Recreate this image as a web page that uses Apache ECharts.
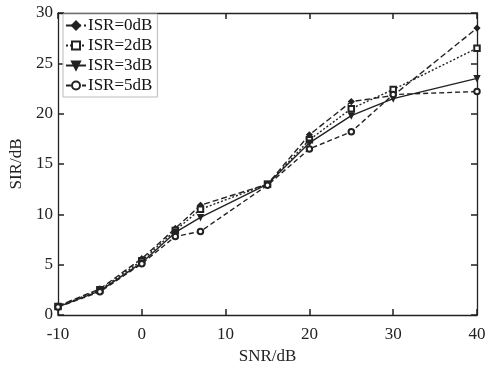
<!DOCTYPE html>
<html><head><meta charset="utf-8">
<script src="https://cdn.jsdelivr.net/npm/echarts@6/dist/echarts.min.js"></script>
<style>html,body{margin:0;padding:0;background:#fff}#c{width:500px;height:367px}</style>
</head><body><div id="c"></div>
<script>
const snr = [-10, -5, 0, 4, 7, 15, 20, 25, 30, 40];
const isr0 = [0.9, 2.6, 5.6, 8.6, 10.9, 13.0, 17.9, 21.2, 21.8, 28.5];
const isr2 = [0.85, 2.5, 5.4, 8.4, 10.5, 13.0, 17.4, 20.5, 22.4, 26.5];
const isr3 = [0.8, 2.4, 5.2, 8.2, 9.7, 13.0, 17.1, 19.8, 21.5, 23.5];
const isr5 = [0.8, 2.3, 5.1, 7.8, 8.3, 12.9, 16.5, 18.2, 21.9, 22.2];
const names = ['ISR=0dB', 'ISR=2dB', 'ISR=3dB', 'ISR=5dB'];
const xTicks = [-10, 0, 10, 20, 30, 40];
const yTicks = [0, 5, 10, 15, 20, 25, 30];

const font = 'Liberation Serif';
const pair = a => snr.map((x, i) => [x, a[i]]);
const axisCommon = () => ({
  axisLine: {show: true, onZero: false, lineStyle: {color: '#222', width: 1.3}},
  axisTick: {show: true, inside: true, length: 6, lineStyle: {color: '#222', width: 1.5}},
  splitLine: {show: false}
});
const mk = (name, data, type, symbol, rot) => ({
  name, type: 'line', data: pair(data), symbol, symbolSize: 5.5, symbolRotate: rot || 0,
  lineStyle: {color: '#222', width: 1.4, type},
  itemStyle: {color: '#222', borderColor: '#222', borderWidth: 1.2},
  emphasis: {disabled: true}, animation: false
});
const chart = echarts.init(document.getElementById('c'));
chart.setOption({
  animation: false,
  grid: {left: 58, right: 23, top: 13, bottom: 52, containLabel: false, outerBoundsMode: 'none'},
  legend: {
    orient: 'vertical', left: 63, top: 14, padding: [3, 5, 3, 2], itemGap: 3,
    itemWidth: 20, itemHeight: 10,
    backgroundColor: '#fff', borderColor: '#bbb', borderWidth: 1,
    textStyle: {fontFamily: font, fontSize: 17, color: '#111', padding: [0, 0, 0, -3]},
    data: names
  },
  xAxis: [
    Object.assign({type: 'value', min: -10, max: 40, interval: 10,
      name: 'SNR/dB', nameLocation: 'middle', nameGap: 33,
      nameTextStyle: {fontFamily: font, fontSize: 17, color: '#222'},
      axisLabel: {fontFamily: font, fontSize: 17, color: '#222', margin: 11,
        formatter: v => xTicks.includes(v) ? String(v) : ''}}, axisCommon()),
    Object.assign({type: 'value', min: -10, max: 40, interval: 10, position: 'top',
      axisLabel: {show: false}}, axisCommon())
  ],
  yAxis: [
    Object.assign({type: 'value', min: 0, max: 30, interval: 5,
      name: 'SIR/dB', nameLocation: 'middle', nameGap: 30,
      nameTextStyle: {fontFamily: font, fontSize: 17, color: '#222'},
      axisLabel: {fontFamily: font, fontSize: 17, color: '#222', margin: 5,
        formatter: v => yTicks.includes(v) ? String(v) : ''}}, axisCommon()),
    Object.assign({type: 'value', min: 0, max: 30, interval: 5, position: 'right',
      axisLabel: {show: false}}, axisCommon())
  ],
  series: [
    mk(names[0], isr0, [6, 3], 'diamond'),
    mk(names[1], isr2, [2, 2], 'emptyRect'),
    mk(names[2], isr3, 'solid', 'triangle', 180),
    mk(names[3], isr5, [5, 3], 'emptyCircle')
  ]
});
</script></body></html>
